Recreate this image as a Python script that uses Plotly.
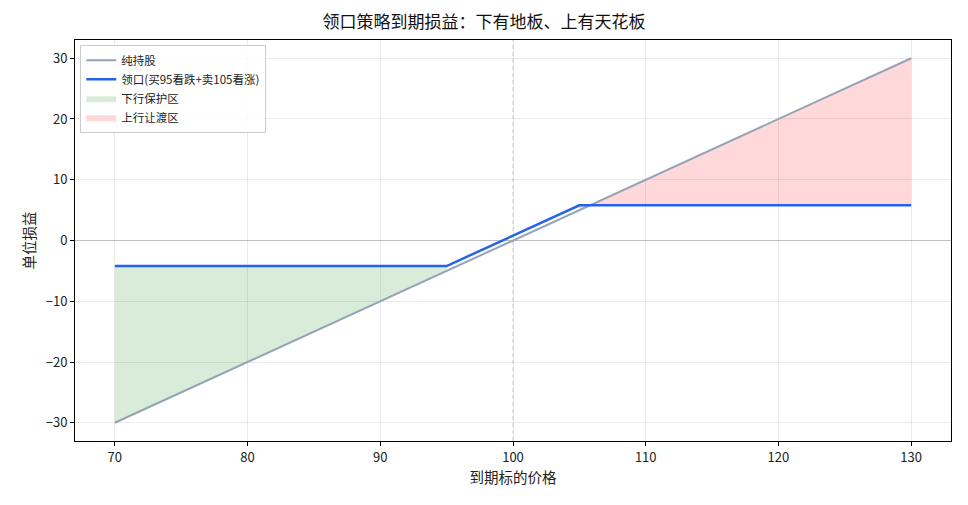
import plotly.graph_objects as go

# Data
price = [70, 95, 100, 105, 130]
stock_pnl = [-30, -5, 0, 5, 30]
collar_pnl = [-4.2, -4.2, 0.8, 5.8, 5.8]

down_x = [70, 95]
down_stock = [-30, -5]
down_collar = [-4.2, -4.2]

up_x = [105, 130]
up_collar = [5.8, 5.8]
up_stock = [5, 30]

x_ticks = [70, 80, 90, 100, 110, 120, 130]
y_ticks = [-30, -20, -10, 0, 10, 20, 30]

FONT = "Noto Sans CJK SC"

fig = go.Figure()

fig.add_hline(y=0, line=dict(color="#d0d0d0", width=1), layer="below")
fig.add_vline(x=100, line=dict(color="#cfd4da", width=1, dash="4px,3px"), layer="below")

# Downside protection fill
fig.add_trace(go.Scatter(x=down_x, y=down_stock, mode="lines", line=dict(width=0),
                         showlegend=False, hoverinfo="skip"))
fig.add_trace(go.Scatter(x=down_x, y=down_collar, mode="lines", line=dict(width=0, color="rgba(0,128,0,0.25)"),
                         fill="tonexty", fillcolor="rgba(0,128,0,0.15)", name="下行保护区", legendrank=3))
# Upside give-up fill
fig.add_trace(go.Scatter(x=up_x, y=up_collar, mode="lines", line=dict(width=0),
                         showlegend=False, hoverinfo="skip"))
fig.add_trace(go.Scatter(x=up_x, y=up_stock, mode="lines", line=dict(width=0, color="rgba(255,0,0,0.25)"),
                         fill="tonexty", fillcolor="rgba(255,0,0,0.15)", name="上行让渡区", legendrank=4))

fig.add_trace(go.Scatter(x=price, y=stock_pnl, mode="lines", line=dict(color="#94a3b8", width=2),
                         name="纯持股", legendrank=1))
fig.add_trace(go.Scatter(x=price, y=collar_pnl, mode="lines", line=dict(color="#2563eb", width=2.5),
                         name="领口(买95看跌+卖105看涨)", legendrank=2))

fig.update_layout(
    width=968, height=505,
    margin=dict(l=75, r=17, t=40, b=64),
    paper_bgcolor="white", plot_bgcolor="white",
    font=dict(family=FONT, size=13, color="#222222"),
    title=dict(text="领口策略到期损益：下有地板、上有天花板", x=0.5, xanchor="center",
               y=1 - 22 / 505, yanchor="middle", font=dict(size=17, color="#111111")),
    legend=dict(x=0.006, y=0.988, xanchor="left", yanchor="top", traceorder="normal",
                bgcolor="rgba(255,255,255,0.85)", bordercolor="#cccccc", borderwidth=1,
                font=dict(size=11.5), tracegroupgap=0),
    xaxis=dict(title=dict(text="到期标的价格", font=dict(size=14.5), standoff=8),
               range=[67, 133], tickvals=x_ticks, ticks="outside", ticklen=4,
               tickcolor="black", showgrid=True, gridcolor="rgba(0,0,0,0.08)",
               showline=True, linecolor="black", linewidth=1, mirror=True, zeroline=False),
    yaxis=dict(title=dict(text="单位损益", font=dict(size=14.5), standoff=6),
               range=[-33, 33], tickvals=y_ticks, ticks="outside", ticklen=4,
               tickcolor="black", showgrid=True, gridcolor="rgba(0,0,0,0.08)",
               showline=True, linecolor="black", linewidth=1, mirror=True, zeroline=False),
)

fig.write_html("out.html")
